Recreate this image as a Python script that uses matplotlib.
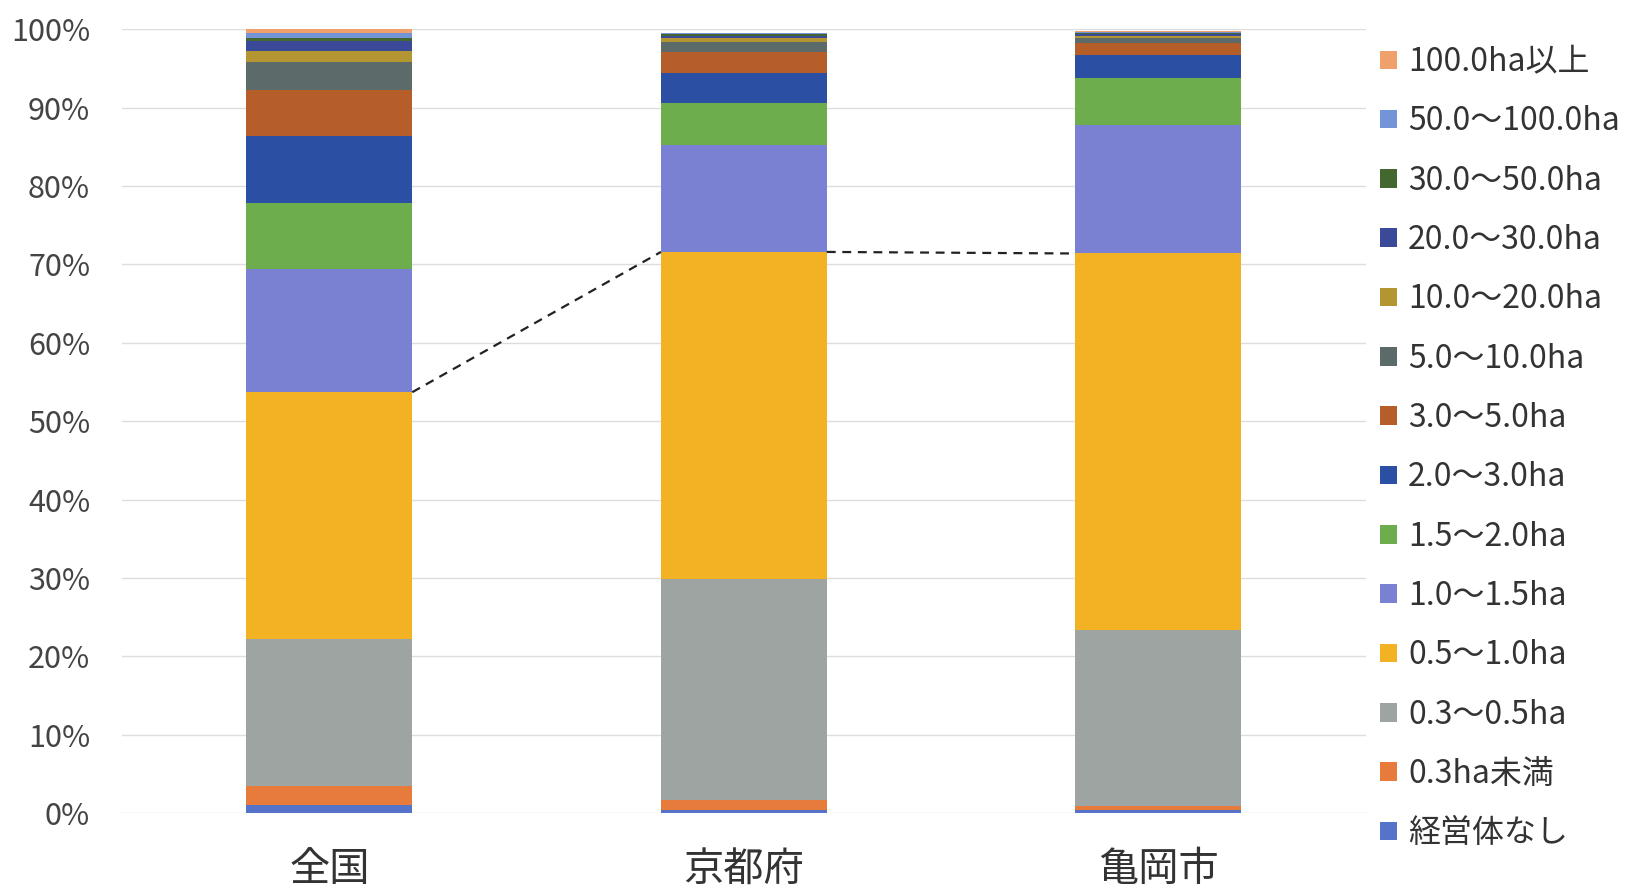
import matplotlib
matplotlib.use('Agg')
import matplotlib.pyplot as plt
import numpy as np

plt.rcParams['font.family'] = ['Noto Sans CJK JP', 'DejaVu Sans']

# 地域
regions = ['全国', '京都府', '亀岡市']

# 経営耕地面積規模別の割合 (%), 下から順に
classes = ['経営体なし', '0.3ha未満', '0.3～0.5ha', '0.5～1.0ha', '1.0～1.5ha',
           '1.5～2.0ha', '2.0～3.0ha', '3.0～5.0ha', '5.0～10.0ha', '10.0～20.0ha',
           '20.0～30.0ha', '30.0～50.0ha', '50.0～100.0ha', '100.0ha以上']

zenkoku = [1.0, 2.5, 18.7, 31.5, 15.7, 8.5, 8.5, 5.8, 3.6, 1.5, 1.2, 0.4, 0.7, 0.4]
kyotofu = [0.4, 1.2, 28.2, 41.8, 13.7, 5.3, 3.8, 2.7, 1.3, 0.5, 0.3, 0.2, 0.1, 0.1]
kameoka = [0.4, 0.5, 22.5, 48.0, 16.4, 6.0, 2.9, 1.5, 0.7, 0.3, 0.2, 0.2, 0.1, 0.1]

colors = ['#5573C8', '#E77B3C', '#9EA4A1', '#F2B224', '#7A80D2', '#6DAD4E',
          '#2B50A3', '#B65E2A', '#5C6B69', '#B39631', '#3B4A98', '#43672E',
          '#7394D6', '#F0A06A']

data = np.array([zenkoku, kyotofu, kameoka]) / 100.0
x = np.arange(len(regions))
width = 0.4

fig = plt.figure(figsize=(16.32, 8.9), dpi=100)
ax = fig.add_axes([0.0748, 0.0865, 0.762, 0.8805])

bottom = np.zeros(len(regions))
handles = []
for i, name in enumerate(classes):
    h = ax.bar(x, data[:, i], width, bottom=bottom, color=colors[i], label=name, zorder=2)
    handles.append(h)
    bottom += data[:, i]

# 0.5～1.0ha の上端を結ぶ破線
top_yellow = data[:, :4].sum(axis=1)
for j in range(len(regions) - 1):
    ax.plot([x[j] + width / 2, x[j + 1] - width / 2], [top_yellow[j], top_yellow[j + 1]],
            color='#222222', ls=(0, (4, 3)), lw=1.6, zorder=3)

ax.set_xlim(-0.5, 2.5)
ax.set_ylim(0, 1.0)
ax.set_yticks(np.arange(0, 1.01, 0.1))
ax.set_yticklabels(['{0}%'.format(int(round(v * 100))) for v in np.arange(0, 1.01, 0.1)])
ax.set_xticks(x)
ax.set_xticklabels(regions, fontsize=29, color='#333333')
ax.tick_params(axis='y', length=0, pad=23, labelsize=22, labelcolor='#444444')
ax.tick_params(axis='x', length=0, pad=26)
ax.grid(axis='y', color='#DDDDDD', lw=1, zorder=0)
for s in ax.spines.values():
    s.set_visible(False)

leg = fig.legend(handles[::-1], classes[::-1], loc='center left',
                 bbox_to_anchor=(0.838, 0.497), frameon=False, fontsize=23,
                 handlelength=0.52, handleheight=0.52, handletextpad=0.35,
                 labelspacing=0.855, borderaxespad=0)
for t in leg.get_texts():
    t.set_color('#333333')

fig.savefig('out.png', dpi=100, facecolor='white')
